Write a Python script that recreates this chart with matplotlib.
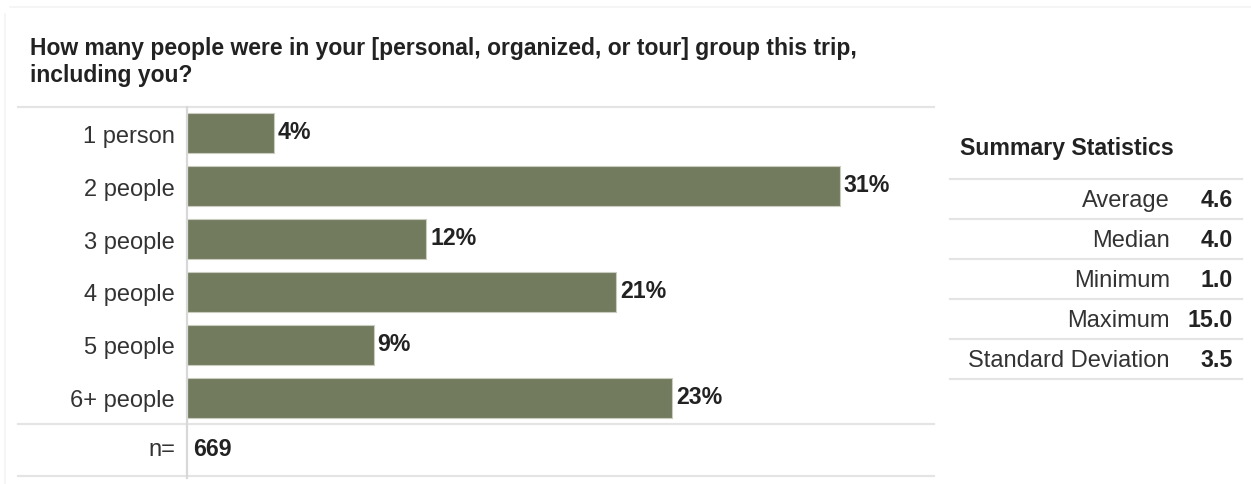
import matplotlib
matplotlib.use("Agg")
import matplotlib.pyplot as plt
from matplotlib.lines import Line2D

# ---- survey data ----
question = ["How many people were in your [personal, organized, or tour] group this trip,",
            "including you?"]
groups = ["1 person", "2 people", "3 people", "4 people", "5 people", "6+ people"]
counts = [28, 210, 77, 138, 60, 156]          # respondents per group size
n_total = sum(counts)                          # 669
pct = [100.0 * c / n_total for c in counts]

stat_names = ["Average", "Median", "Minimum", "Maximum", "Standard Deviation"]
stat_values = [4.6, 4.0, 1.0, 15.0, 3.5]

W, H = 1251, 485
BAR = "#737b5f"; TXT = "#333333"; DARK = "#222222"; RULE = "#e4e4e4"
FONT = "Liberation Sans"; FS = 17.0; FS_B = 16.7

plt.rcParams["font.family"] = [FONT, "DejaVu Sans"]

fig = plt.figure(figsize=(W / 100, H / 100), dpi=100)
fx = lambda x: x / W
fy = lambda y: 1 - y / H

def hline(x0, x1, y, color=RULE, lw=1.6):
    fig.add_artist(Line2D([fx(x0), fx(x1)], [fy(y), fy(y)], color=color, lw=lw))

def vline(x, y0, y1, color=RULE, lw=1.6):
    fig.add_artist(Line2D([fx(x), fx(x)], [fy(y0), fy(y1)], color=color, lw=lw))

# faint panel frame
hline(10, W, 8, color="#f4f4f4", lw=1.2)
vline(5, 15, H, color="#f4f4f4", lw=1.2)

# question title
fig.text(fx(30), fy(55), question[0], fontsize=16.5, fontweight="bold", color=DARK, va="baseline")
fig.text(fx(30), fy(82), question[1], fontsize=16.5, fontweight="bold", color=DARK, va="baseline")

# table rules around the bar block
hline(18, 934, 108)
hline(18, 934, 425)
hline(18, 934, 477)
vline(187, 108, 479, color="#d8d8d8")

# ---- bar block ----
px_per_pct = 20.8
ax_l, ax_r, ax_t, ax_b = 187, 934, 108, 425
ax = fig.add_axes([fx(ax_l), fy(ax_b), (ax_r - ax_l) / W, (ax_b - ax_t) / H])
ax.set_xlim(0, (ax_r - ax_l) / px_per_pct)
ax.set_ylim(len(groups) - 0.5, -0.5)
ax.axis("off")

ypos = list(range(len(groups)))
ax.barh(ypos, pct, height=0.76, color=BAR, edgecolor="#c9ccbf", linewidth=0.8)

for i, (g, p) in enumerate(zip(groups, pct)):
    ax.annotate(g, xy=(0, i), xytext=(-12, -8.5), textcoords="offset pixels",
                ha="right", va="baseline", fontsize=FS, color=TXT)
    ax.annotate(f"{p:.0f}%", xy=(p, i), xytext=(4, -5), textcoords="offset pixels",
                ha="left", va="baseline", fontsize=FS_B, fontweight="bold", color=DARK)

# sample size row
fig.text(fx(175), fy(456), "n=", fontsize=FS, color=TXT, ha="right", va="baseline")
fig.text(fx(193), fy(456), f"{n_total}", fontsize=FS_B, fontweight="bold", color=DARK,
         ha="left", va="baseline")

# ---- summary statistics table ----
fig.text(fx(960), fy(155), "Summary Statistics", fontsize=FS_B, fontweight="bold",
         color=DARK, va="baseline")
for k, (name, val) in enumerate(zip(stat_names, stat_values)):
    top = 180 + 40 * k
    hline(950, 1242, top)
    fig.text(fx(1170), fy(top + 27), name, fontsize=FS, color=TXT, ha="right", va="baseline")
    fig.text(fx(1233), fy(top + 27), f"{val:.1f}", fontsize=FS_B, fontweight="bold",
             color=DARK, ha="right", va="baseline")
hline(950, 1242, 180 + 40 * len(stat_names))

fig.savefig("out.png", dpi=100, facecolor="white")
